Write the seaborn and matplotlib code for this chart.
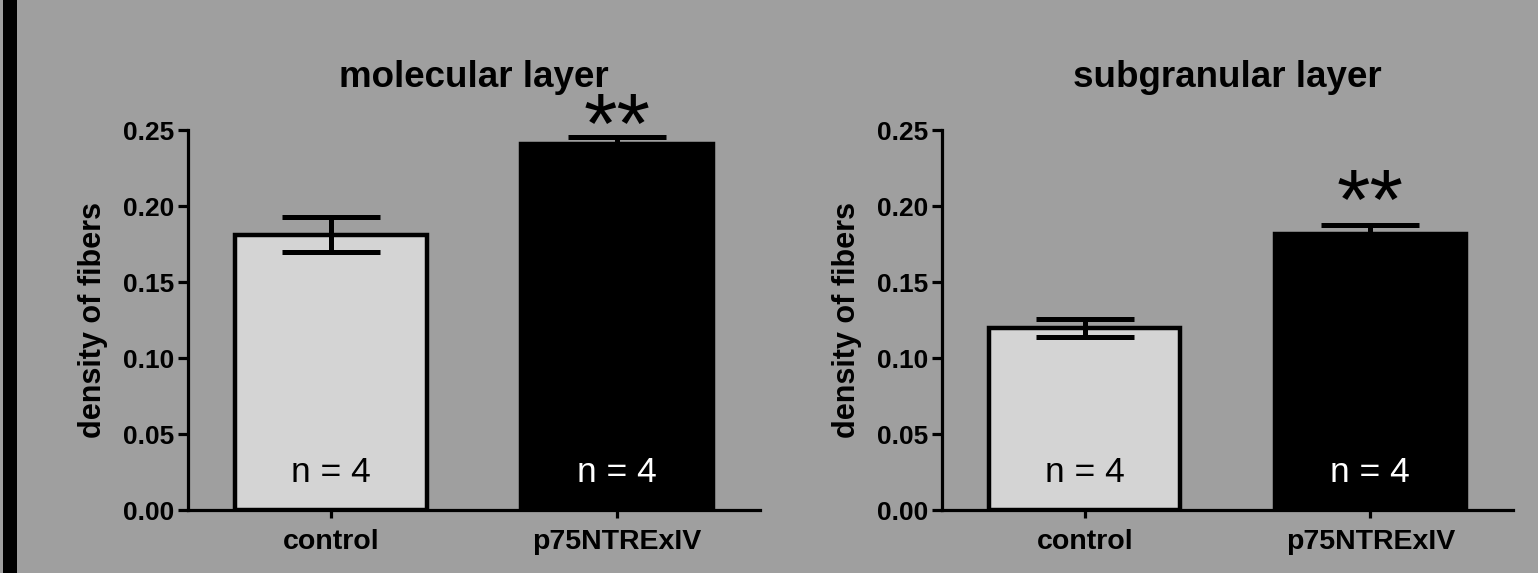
import matplotlib
matplotlib.use("Agg")
import matplotlib.pyplot as plt
import seaborn as sns
import pandas as pd
from matplotlib.patches import Rectangle

# ---- data ----
categories = ["control", "p75NTRExIV"]
titles = ["molecular layer", "subgranular layer"]
molecular_mean = [0.181, 0.2408]
molecular_sem = [0.0115, 0.0045]
subgranular_mean = [0.1197, 0.1816]
subgranular_sem = [0.006, 0.006]
n_labels = ["n = 4", "n = 4"]
sig_labels = ["", "**"]
molecular_sig_y = [None, 0.2492]
subgranular_sig_y = [None, 0.1995]
yticks = [0.00, 0.05, 0.10, 0.15, 0.20, 0.25]
ylabel = "density of fibers"

BG = "#9f9f9f"
bar_colors = ["#d4d4d4", "#000000"]
n_colors = ["black", "white"]

sns.set_theme(style="ticks")
plt.rcParams["font.family"] = ["Liberation Sans", "DejaVu Sans"]
plt.rcParams["text.color"] = "black"
plt.rcParams["axes.labelcolor"] = "black"

fig = plt.figure(figsize=(15.38, 5.73), dpi=100)
fig.patch.set_facecolor(BG)
fig.patches.append(Rectangle((3 / 1538, 0), 14 / 1538, 1, transform=fig.transFigure,
                             facecolor="black", edgecolor="none", zorder=0))

axes_pos = [[188 / 1538, 63 / 573, 572 / 1538, 380 / 573],
            [942 / 1538, 63 / 573, 571 / 1538, 380 / 573]]

datasets = [(molecular_mean, molecular_sem, molecular_sig_y),
            (subgranular_mean, subgranular_sem, subgranular_sig_y)]

for pos, title, (means, sems, sig_y) in zip(axes_pos, titles, datasets):
    ax = fig.add_axes(pos)
    ax.set_facecolor(BG)
    df = pd.DataFrame({"group": categories, "value": means})
    sns.barplot(data=df, x="group", y="value", hue="group", palette=bar_colors,
                legend=False, ax=ax, width=0.67, edgecolor="black", linewidth=3.2,
                saturation=1, errorbar=None, zorder=2)
    ax.errorbar(range(len(categories)), means, yerr=sems, fmt="none", ecolor="black",
                elinewidth=3.6, capsize=35, capthick=3.6, zorder=3)
    for i, (lab, col) in enumerate(zip(n_labels, n_colors)):
        ax.text(i, 0.025, lab, ha="center", va="center", fontsize=25.5, color=col, zorder=4)
    for i, (s, y) in enumerate(zip(sig_labels, sig_y)):
        if s and y is not None:
            ax.text(i, y, s, ha="center", va="center", fontsize=62, color="black",
                    zorder=4)
    ax.set_xlim(-0.5, 1.5)
    ax.set_ylim(0, 0.25)
    ax.set_yticks(yticks)
    ax.set_yticklabels([f"{t:.2f}" for t in yticks], fontsize=19, fontweight="bold")
    ax.set_xticks(range(len(categories)))
    ax.set_xticklabels(categories, fontsize=20.5, fontweight="bold")
    ax.set_xlabel("")
    ax.set_ylabel(ylabel, fontsize=22, fontweight="bold", color="black")
    ax.yaxis.set_label_coords(-0.14, 0.5)
    ax.set_title(title, fontsize=26.5, fontweight="bold", pad=31, color="black")
    for side in ["top", "right"]:
        ax.spines[side].set_visible(False)
    for side in ["left", "bottom"]:
        ax.spines[side].set_linewidth(2.3)
        ax.spines[side].set_color("black")
    ax.tick_params(axis="y", length=7, width=2.3, pad=3, colors="black")
    ax.tick_params(axis="x", length=6, width=2.3, pad=8, colors="black")

fig.savefig("out.png", dpi=100, facecolor=BG)
